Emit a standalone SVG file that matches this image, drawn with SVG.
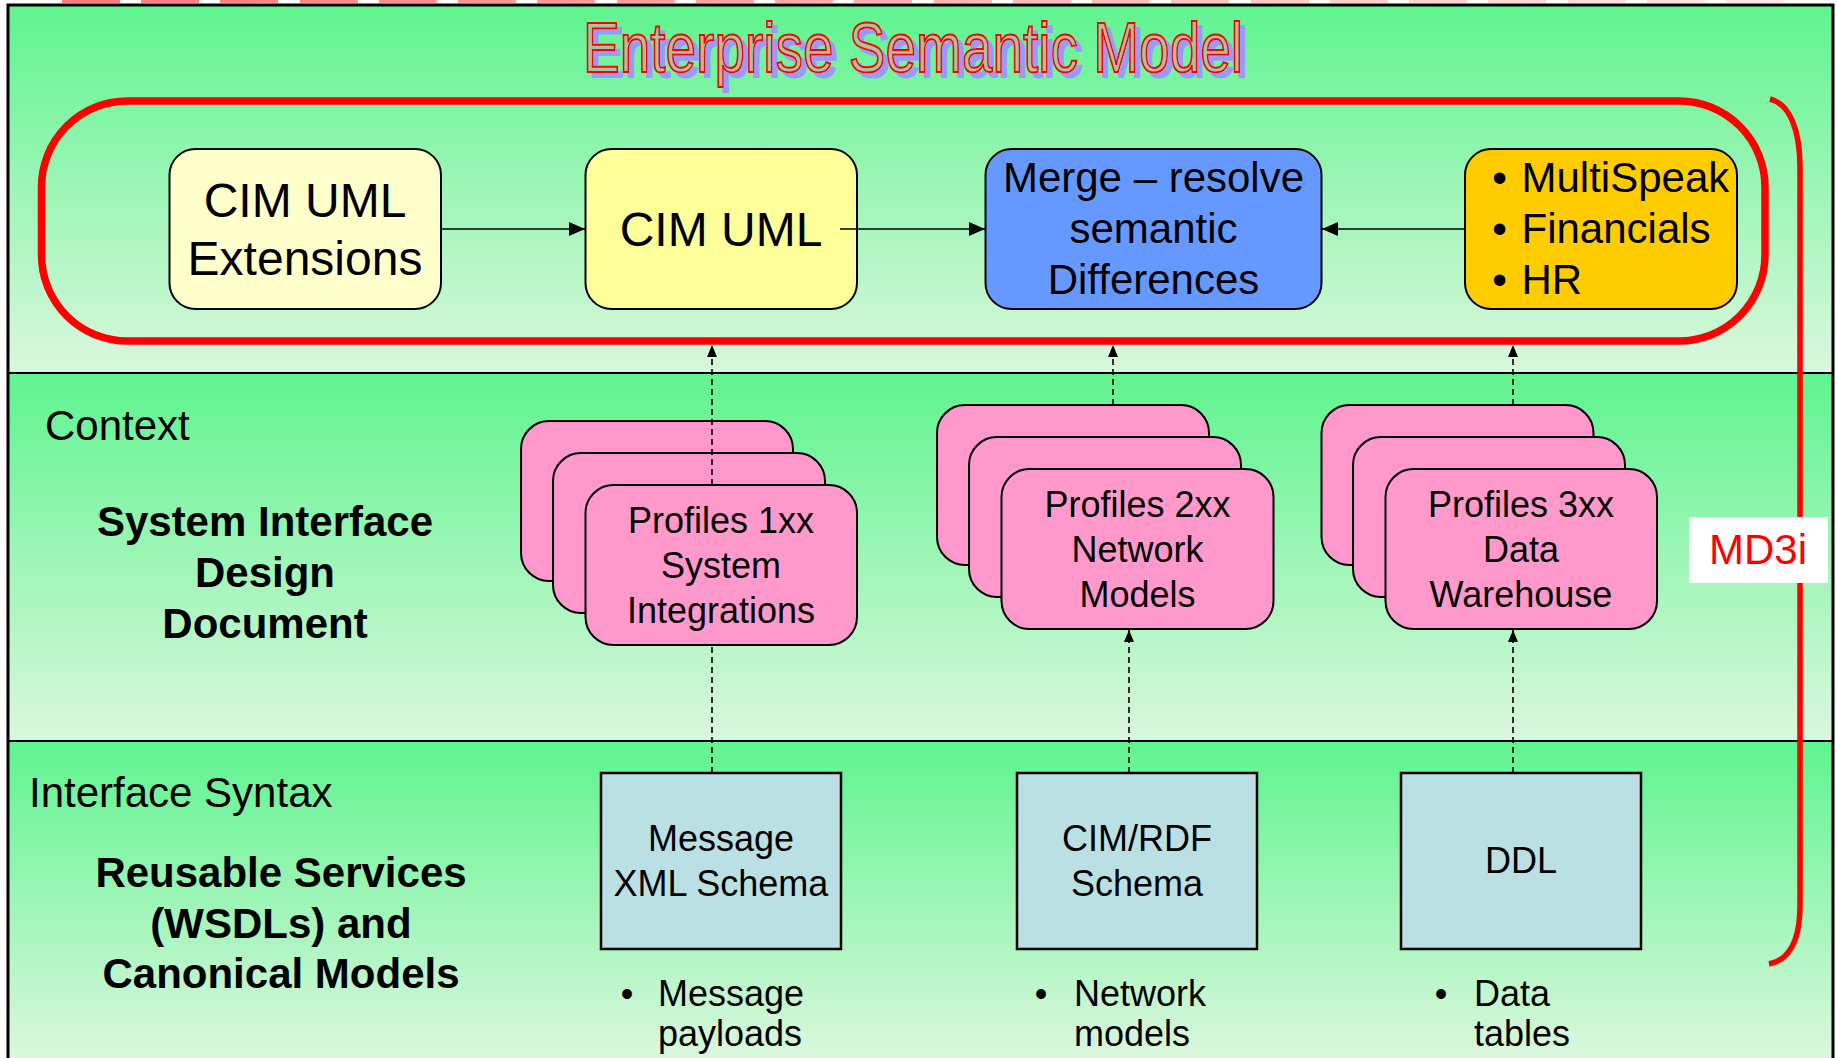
<svg xmlns="http://www.w3.org/2000/svg" width="1837" height="1058" viewBox="0 0 1837 1058">
<defs>
<linearGradient id="bg1" gradientUnits="userSpaceOnUse" x1="0" y1="5" x2="0" y2="373"><stop offset="0" stop-color="#5ff48f"/><stop offset="1" stop-color="#daf7dd"/></linearGradient>
<linearGradient id="bg2" gradientUnits="userSpaceOnUse" x1="0" y1="373" x2="0" y2="741"><stop offset="0" stop-color="#5ff48f"/><stop offset="1" stop-color="#daf7dd"/></linearGradient>
<linearGradient id="bg3" gradientUnits="userSpaceOnUse" x1="0" y1="741" x2="0" y2="1058"><stop offset="0" stop-color="#5ff48f"/><stop offset="1" stop-color="#daf7dd"/></linearGradient>
<linearGradient id="dash" gradientUnits="userSpaceOnUse" x1="60" y1="0" x2="1785" y2="0"><stop offset="0" stop-color="#ff7a7a"/><stop offset="1" stop-color="#ffeaea"/></linearGradient>
<filter id="shadow" x="-5%" y="-20%" width="115%" height="150%">
<feFlood flood-color="#9999ff" result="col"/>
<feComposite in="col" in2="SourceAlpha" operator="in" result="sh"/>
<feOffset in="sh" dx="5" dy="5" result="off"/>
<feMerge><feMergeNode in="off"/><feMergeNode in="SourceGraphic"/></feMerge>
</filter>
<marker id="ah" viewBox="0 0 16 14" refX="16" refY="7" markerWidth="16" markerHeight="14" orient="auto" markerUnits="userSpaceOnUse"><path d="M0,0 L16,7 L0,14 z" fill="#000"/></marker>
<marker id="as" viewBox="0 0 12 10" refX="12" refY="5" markerWidth="12" markerHeight="10" orient="auto" markerUnits="userSpaceOnUse"><path d="M0,0 L12,5 L0,10 z" fill="#000"/></marker>
<style>
.t{font-family:"Liberation Sans",Arial,sans-serif;fill:#000}
.c{text-anchor:middle}
.b{font-weight:bold}
.box{stroke:#000;stroke-width:2}
.card{fill:#ff99cc;stroke:#000;stroke-width:2}
.sch{fill:#bbe0e3;stroke:#000;stroke-width:2.5}
.cn{fill:none;stroke:#000;stroke-width:1.6}
.dsh{stroke-dasharray:6,4}
.band{stroke:#000;stroke-width:2}
</style>
</defs>

<g id="topdashes" fill="url(#dash)">
<rect x="62" y="0" width="58" height="3"/><rect x="141" y="0" width="58" height="3"/><rect x="220" y="0" width="58" height="3"/><rect x="300" y="0" width="58" height="3"/><rect x="379" y="0" width="58" height="3"/><rect x="458" y="0" width="58" height="3"/><rect x="537" y="0" width="58" height="3"/><rect x="617" y="0" width="58" height="3"/><rect x="696" y="0" width="58" height="3"/><rect x="775" y="0" width="58" height="3"/><rect x="854" y="0" width="58" height="3"/><rect x="934" y="0" width="58" height="3"/><rect x="1013" y="0" width="58" height="3"/><rect x="1092" y="0" width="58" height="3"/><rect x="1171" y="0" width="58" height="3"/><rect x="1251" y="0" width="58" height="3"/><rect x="1330" y="0" width="58" height="3"/><rect x="1409" y="0" width="58" height="3"/><rect x="1488" y="0" width="58" height="3"/><rect x="1568" y="0" width="58" height="3"/><rect x="1647" y="0" width="58" height="3"/><rect x="1726" y="0" width="58" height="3"/>
</g>

<g id="bands">
<rect x="8" y="5" width="1825" height="368" fill="url(#bg1)"/>
<rect x="8" y="373" width="1825" height="368" fill="url(#bg2)"/>
<rect x="8" y="741" width="1825" height="330" fill="url(#bg3)"/>
<line class="band" x1="8" y1="373" x2="1833" y2="373"/>
<line class="band" x1="8" y1="741" x2="1833" y2="741"/>
<path d="M8,1060 V5 H1833 V1060" fill="none" stroke="#000" stroke-width="3"/>
</g>

<g id="title" filter="url(#shadow)">
<text x="583" y="72" font-family="Liberation Sans,Arial,sans-serif" font-size="71" textLength="660" lengthAdjust="spacingAndGlyphs" fill="#a6c4a2" stroke="#ff0000" stroke-width="2">Enterprise Semantic Model</text>
</g>

<g id="semantic-frame">
<rect x="41.5" y="101" width="1723.5" height="240" rx="86" ry="86" fill="none" stroke="#ff0000" stroke-width="7.5"/>
</g>

<g id="md3i-bracket">
<path d="M1770,99 C1790,104 1800,130 1800,168 V905 C1800,940 1790,960 1769,964" fill="none" stroke="#ff0000" stroke-width="5.5"/>
</g>

<g id="md3i">
<rect x="1689" y="517" width="139" height="66" fill="#ffffff"/>
<text class="t c" x="1758" y="564" font-size="42" style="fill:#ff0000">MD3i</text>
</g>

<g id="cim-ext">
<rect class="box" x="169.5" y="149" width="271.5" height="160" rx="26" fill="#ffffcc"/>
<text class="t c" x="305" y="217" font-size="48">CIM UML</text>
<text class="t c" x="305" y="275" font-size="48">Extensions</text>
</g>

<g id="cim-uml">
<rect class="box" x="585.5" y="149" width="271.5" height="160" rx="26" fill="#ffff99"/>
<text class="t c" x="721" y="246" font-size="48">CIM UML</text>
</g>

<g id="merge">
<rect class="box" x="985.5" y="149" width="336" height="160" rx="26" fill="#6699ff"/>
<text class="t c" x="1153.5" y="192" font-size="42">Merge – resolve</text>
<text class="t c" x="1153.5" y="243" font-size="42">semantic</text>
<text class="t c" x="1153.5" y="294" font-size="42">Differences</text>
</g>

<g id="other-models">
<rect class="box" x="1465" y="149" width="272" height="160" rx="26" fill="#ffcc00"/>
<text class="t c" x="1499.5" y="192" font-size="42">•</text>
<text class="t" x="1521.5" y="192" font-size="42">MultiSpeak</text>
<text class="t c" x="1499.5" y="243" font-size="42">•</text>
<text class="t" x="1521.5" y="243" font-size="42">Financials</text>
<text class="t c" x="1499.5" y="294" font-size="42">•</text>
<text class="t" x="1521.5" y="294" font-size="42">HR</text>
</g>

<g id="context-labels">
<text class="t" x="45" y="440" font-size="42">Context</text>
<text class="t c b" x="265" y="536" font-size="42">System Interface</text>
<text class="t c b" x="265" y="587" font-size="42">Design</text>
<text class="t c b" x="265" y="638" font-size="42">Document</text>
</g>

<g id="profiles-1xx">
<rect class="card" x="521" y="421" width="272" height="160" rx="28"/>
<rect class="card" x="553" y="453" width="272" height="160" rx="28"/>
<rect class="card" x="585.5" y="485" width="271.5" height="160" rx="28"/>
<text class="t c" x="721" y="533" font-size="36">Profiles 1xx</text>
<text class="t c" x="721" y="578" font-size="36">System</text>
<text class="t c" x="721" y="623" font-size="36">Integrations</text>
</g>

<g id="profiles-2xx">
<rect class="card" x="937" y="405" width="272" height="160" rx="28"/>
<rect class="card" x="969" y="437" width="272" height="160" rx="28"/>
<rect class="card" x="1001.5" y="469" width="272" height="160" rx="28"/>
<text class="t c" x="1137.5" y="517" font-size="36">Profiles 2xx</text>
<text class="t c" x="1137.5" y="562" font-size="36">Network</text>
<text class="t c" x="1137.5" y="607" font-size="36">Models</text>
</g>

<g id="profiles-3xx">
<rect class="card" x="1321.5" y="405" width="272" height="160" rx="28"/>
<rect class="card" x="1353" y="437" width="272" height="160" rx="28"/>
<rect class="card" x="1385.5" y="469" width="271.5" height="160" rx="28"/>
<text class="t c" x="1521" y="517" font-size="36">Profiles 3xx</text>
<text class="t c" x="1521" y="562" font-size="36">Data</text>
<text class="t c" x="1521" y="607" font-size="36">Warehouse</text>
</g>

<g id="syntax-labels">
<text class="t" x="29" y="807" font-size="42">Interface Syntax</text>
<text class="t c b" x="281" y="887" font-size="42">Reusable Services</text>
<text class="t c b" x="281" y="938" font-size="42">(WSDLs) and</text>
<text class="t c b" x="281" y="988" font-size="42">Canonical Models</text>
</g>

<g id="message-schema">
<rect class="sch" x="601" y="773" width="240" height="176"/>
<text class="t c" x="721" y="851" font-size="36">Message</text>
<text class="t c" x="721" y="896" font-size="36">XML Schema</text>
</g>

<g id="cimrdf-schema">
<rect class="sch" x="1017" y="773" width="240" height="176"/>
<text class="t c" x="1137" y="851" font-size="36">CIM/RDF</text>
<text class="t c" x="1137" y="896" font-size="36">Schema</text>
</g>

<g id="ddl">
<rect class="sch" x="1401" y="773" width="240" height="176"/>
<text class="t c" x="1521" y="873" font-size="36">DDL</text>
</g>

<g id="notes">
<text class="t c" x="627" y="1006" font-size="36">•</text>
<text class="t" x="658" y="1006" font-size="36">Message</text>
<text class="t" x="658" y="1046" font-size="36">payloads</text>
<text class="t c" x="1041" y="1006" font-size="36">•</text>
<text class="t" x="1074" y="1006" font-size="36">Network</text>
<text class="t" x="1074" y="1046" font-size="36">models</text>
<text class="t c" x="1441" y="1006" font-size="36">•</text>
<text class="t" x="1474" y="1006" font-size="36">Data</text>
<text class="t" x="1474" y="1046" font-size="36">tables</text>
</g>

<g id="connectors">
<path class="cn" d="M441,229 H585" marker-end="url(#ah)"/>
<path class="cn" d="M840,229 H985" marker-end="url(#ah)"/>
<path class="cn" d="M1465,229 H1322" marker-end="url(#ah)"/>
<path class="cn dsh" d="M712,485 V345" marker-end="url(#as)"/>
<path class="cn dsh" d="M712,773 V645"/>
<path class="cn dsh" d="M1113,405 V345" marker-end="url(#as)"/>
<path class="cn dsh" d="M1129,773 V630" marker-end="url(#as)"/>
<path class="cn dsh" d="M1513,405 V345" marker-end="url(#as)"/>
<path class="cn dsh" d="M1513,773 V630" marker-end="url(#as)"/>
</g>
</svg>
